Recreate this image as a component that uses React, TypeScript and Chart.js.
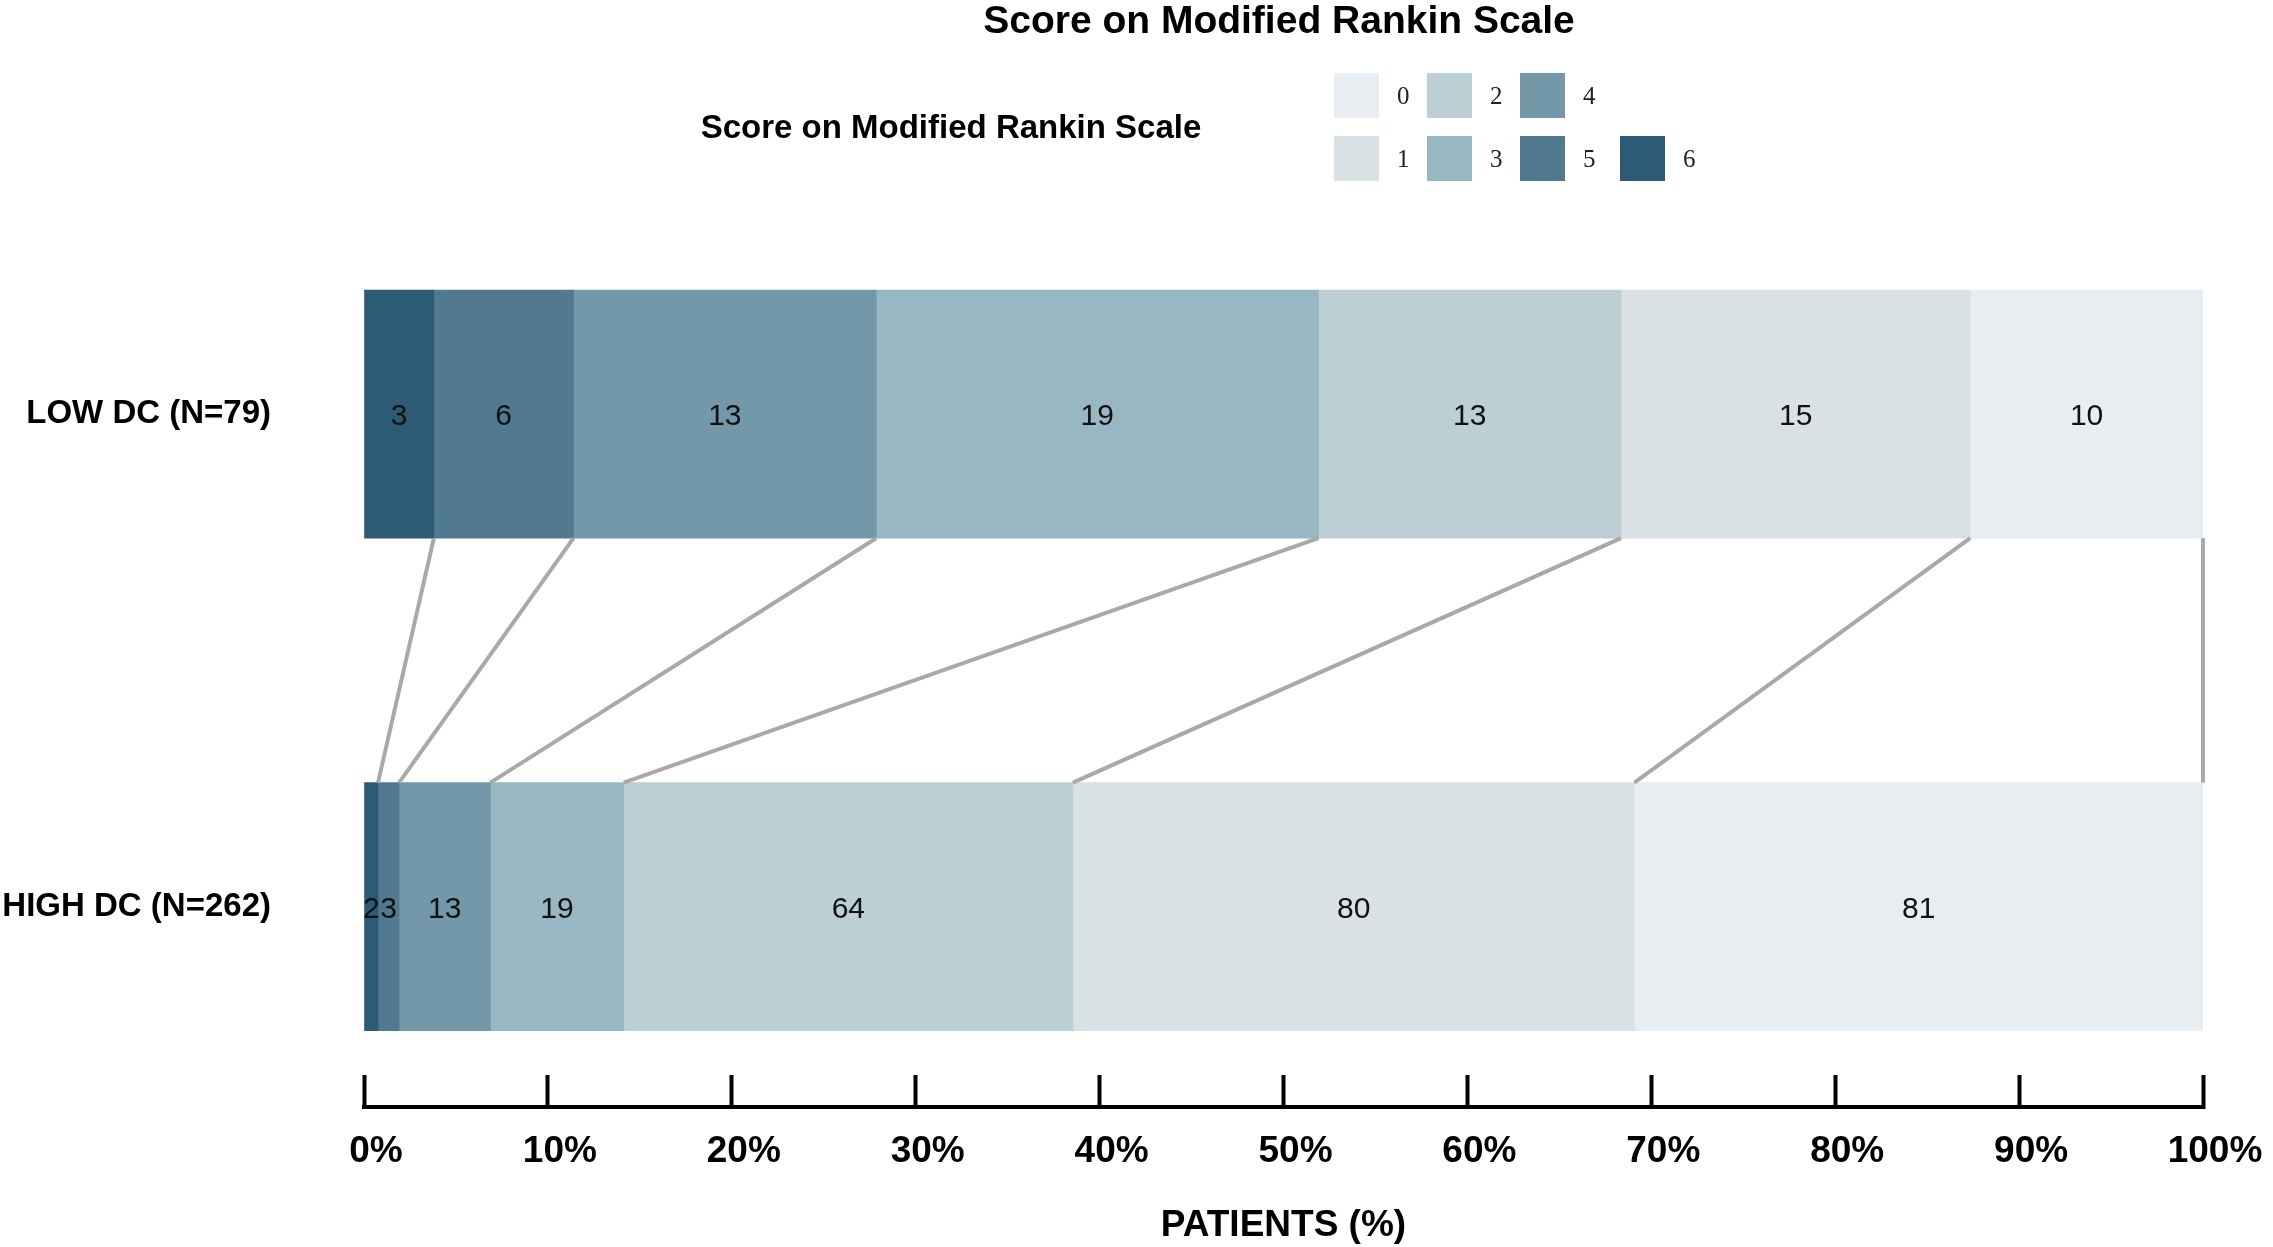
import React, { useEffect, useRef } from 'react';
import { Chart, registerables } from 'chart.js';

Chart.register(...registerables);

// ---- data ----
const groupLabels = ['LOW DC (N=79)', 'HIGH DC (N=262)'];
const scoreLabels = ['0', '1', '2', '3', '4', '5', '6'];
// counts per score 0..6
const lowDcCounts = [10, 15, 13, 19, 13, 6, 3];
const highDcCounts = [81, 80, 64, 19, 13, 3, 2];
const scoreColors = ['#e8edf1', '#d9e1e4', '#bbcfd4', '#97b7c2', '#7298aa', '#51798f', '#2d5b75'];
const stackOrder = [6, 5, 4, 3, 2, 1, 0];
const xTickValues = [0, 10, 20, 30, 40, 50, 60, 70, 80, 90, 100];
const chartTitle = 'Score on Modified Rankin Scale';
const legendTitle = 'Score on Modified Rankin Scale';
const xAxisTitle = 'PATIENTS (%)';

const SANS = '"Liberation Sans", Arial, Helvetica, sans-serif';
const SERIF = '"Liberation Serif", "Times New Roman", serif';

const groups = [lowDcCounts, highDcCounts];
const totals = groups.map((g) => g.reduce((a, b) => a + b, 0));

const connectorPlugin = {
  id: 'connectors',
  afterDatasetsDraw(chart: any) {
    const ctx = chart.ctx;
    ctx.save();
    ctx.strokeStyle = '#a9a9a9';
    ctx.lineWidth = 4;
    chart.data.datasets.forEach((_ds: any, di: number) => {
      const meta = chart.getDatasetMeta(di);
      const a = meta.data[0];
      const b = meta.data[1];
      if (!a || !b) return;
      ctx.beginPath();
      ctx.moveTo(a.x, a.y + a.height / 2);
      ctx.lineTo(b.x, b.y - b.height / 2);
      ctx.stroke();
    });
    ctx.restore();
  },
};

const valueLabelPlugin = {
  id: 'valueLabels',
  afterDatasetsDraw(chart: any) {
    const ctx = chart.ctx;
    ctx.save();
    ctx.font = `30px ${SANS}`;
    ctx.fillStyle = '#111';
    ctx.textAlign = 'center';
    ctx.textBaseline = 'middle';
    chart.data.datasets.forEach((ds: any, di: number) => {
      const meta = chart.getDatasetMeta(di);
      meta.data.forEach((el: any, i: number) => {
        const cx = (el.x + el.base) / 2;
        ctx.fillText(String(ds.counts[i]), cx, el.y + 3);
      });
    });
    ctx.restore();
  },
};

const headerPlugin = {
  id: 'header',
  afterDraw(chart: any) {
    const ctx = chart.ctx;
    ctx.save();
    ctx.fillStyle = '#000';
    ctx.textBaseline = 'alphabetic';
    ctx.textAlign = 'center';
    ctx.font = `bold 39px ${SANS}`;
    ctx.fillText(chartTitle, 1279, 33);
    ctx.font = `bold 33px ${SANS}`;
    ctx.fillText(legendTitle, 951, 138);

    // legend: column-major grid, 2 rows
    const colX = [1334, 1427, 1520, 1620];
    const rowY = [73, 136];
    const box = 45;
    scoreLabels.forEach((lab, i) => {
      const col = Math.floor(i / 2);
      const r = i === 6 ? 1 : i % 2;
      const x = colX[col];
      const y = rowY[r];
      ctx.fillStyle = scoreColors[i];
      ctx.fillRect(x, y, box, box);
      ctx.fillStyle = '#222';
      ctx.font = `25px ${SERIF}`;
      ctx.textAlign = 'left';
      ctx.textBaseline = 'middle';
      ctx.fillText(lab, x + box + 18, y + box / 2 + 2);
    });
    ctx.restore();
  },
};

export default function App() {
  const ref = useRef<HTMLCanvasElement | null>(null);

  useEffect(() => {
    document.body.style.margin = '0';
    document.body.style.overflow = 'hidden';
    const canvas = ref.current;
    if (!canvas) return;

    const datasets = stackOrder.map((s) => ({
      label: scoreLabels[s],
      data: groups.map((g, gi) => ({ x: (g[s] / totals[gi]) * 100, y: gi })),
      counts: groups.map((g) => g[s]),
      backgroundColor: scoreColors[s],
      borderWidth: 0,
      barThickness: 248,
    }));

    const chart = new Chart(canvas, {
      type: 'bar',
      data: { datasets } as any,
      options: {
        indexAxis: 'y',
        responsive: false,
        devicePixelRatio: 1,
        animation: false,
        layout: { padding: { top: 168, right: 70, bottom: 0, left: 0 } },
        plugins: {
          legend: { display: false },
          title: { display: false },
          tooltip: { enabled: false },
        },
        scales: {
          x: {
            type: 'linear',
            position: 'bottom',
            min: 0,
            max: 100,
            stacked: true,
            offset: false,
            afterBuildTicks: (s: any) => {
              s.ticks = xTickValues.map((v) => ({ value: v }));
            },
            afterFit: (s: any) => {
              s.height = 140;
              s.paddingLeft = 0;
              s.paddingRight = 0;
            },
            ticks: {
              callback: (v: any) => `${v}%`,
              font: { family: SANS, size: 37, weight: 'bold' },
              color: '#000',
              padding: 55,
              labelOffset: 12,
              maxRotation: 0,
              autoSkip: false,
            },
            grid: {
              display: true,
              drawOnChartArea: false,
              drawTicks: true,
              tickLength: -32,
              tickWidth: 4,
              tickColor: '#000',
              lineWidth: 1,
            },
            border: { display: true, color: '#000', width: 4 },
            title: {
              display: true,
              text: xAxisTitle,
              color: '#000',
              font: { family: SANS, size: 37, weight: 'bold' },
              padding: { top: 0, bottom: -1 },
            },
          },
          y: {
            type: 'linear',
            reverse: true,
            offset: false,
            min: -0.5,
            max: 1.407,
            bounds: 'data',
            stacked: true,
            afterBuildTicks: (s: any) => {
              s.ticks = groupLabels.map((_l, i) => ({ value: i }));
            },
            afterFit: (s: any) => {
              s.width = 364;
            },
            ticks: {
              callback: (v: any) => groupLabels[v as number] ?? '',
              font: { family: SANS, size: 33, weight: 'bold' },
              color: '#000',
              padding: 93,
              autoSkip: false,
            },
            grid: { display: false, drawTicks: false, offset: false },
            border: { display: false },
          },
        },
      } as any,
      plugins: [connectorPlugin, valueLabelPlugin, headerPlugin],
    });

    return () => {
      chart.destroy();
    };
  }, []);

  return (
    <div style={{ position: 'absolute', left: 0, top: 0, width: 2273, height: 1247, background: '#fff' }}>
      <canvas ref={ref} width={2273} height={1247} style={{ display: 'block', width: 2273, height: 1247 }} />
    </div>
  );
}
